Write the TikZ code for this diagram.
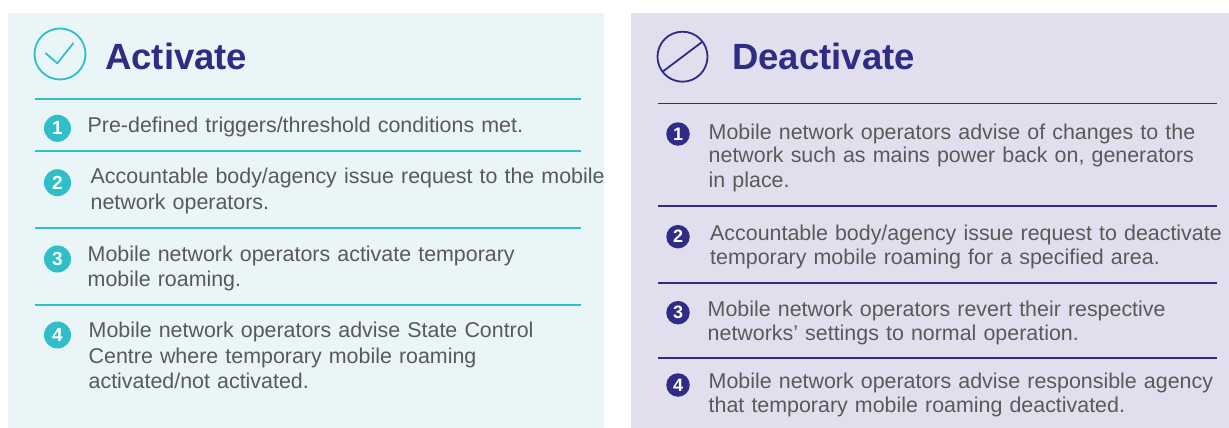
\documentclass[tikz,border=0pt]{standalone}
\usepackage{fontspec}
\setmainfont{Liberation Sans}
\definecolor{actbg}{HTML}{E9F5F6}
\definecolor{deabg}{HTML}{E1DFEE}
\definecolor{teal1}{HTML}{30BFC8}
\definecolor{navy1}{HTML}{2E2C84}
\definecolor{bodygray}{HTML}{595959}
\tikzset{
  paneltitle/.style={anchor=base west, inner sep=0pt, text=navy1, font=\fontsize{36.5}{40}\selectfont\bfseries},
  actline/.style={draw=teal1, line width=1.6pt},
  dealine/.style={draw=navy1, line width=1.6pt},
  actnum/.style={circle, fill=teal1, text=white, minimum size=27pt, inner sep=0pt, font=\fontsize{19}{19}\selectfont\bfseries},
  deanum/.style={circle, fill=navy1, text=white, minimum size=23.5pt, inner sep=0pt, font=\fontsize{18}{18}\selectfont\bfseries},
  acttext/.style={anchor=base west, inner sep=0pt, align=left, text width=600pt, text=bodygray, font=\fontsize{21.4}{25.5}\selectfont},
  deatext/.style={anchor=base west, inner sep=0pt, align=left, text width=600pt, text=bodygray, font=\fontsize{21.4}{24}\selectfont},
}
\begin{document}
\begin{tikzpicture}[x=1pt,y=-1pt]
\useasboundingbox (0,0) rectangle (1229,428);
% panels
\fill[actbg] (8,13) rectangle (604,428);
\fill[deabg] (631,13) rectangle (1229,428);
% icons
\node[circle, draw=teal1, line width=1.8pt, minimum size=51pt, inner sep=0pt, outer sep=0pt] (acticon) at (60,54) {};
\draw[teal1, line width=1.8pt, line join=round, line cap=round] (acticon.center) ++(-14.3,-0.7) -- ++(11.6,10) -- ++(16,-20);
\node[circle, draw=navy1, line width=1.8pt, minimum size=50pt, inner sep=0pt, outer sep=0pt] (deaicon) at (682.5,56.7) {};
\draw[navy1, line width=1.8pt] (deaicon.217) -- (deaicon.37);
% titles
\node[paneltitle] (acttitle) at (105,70) {Activate};
\node[paneltitle] (deatitle) at (732,70) {Deactivate};
% dividers
\draw[actline] (35,99) -- (581,99);
\draw[actline] (35,151) -- (581,151);
\draw[actline] (35,228) -- (581,228);
\draw[actline] (35,305) -- (581,305);
\draw[dealine] (658,103.3) -- (1217,103.3);
\draw[dealine] (658,206) -- (1217,206);
\draw[dealine] (658,282.7) -- (1217,282.7);
\draw[dealine] (658,358) -- (1217,358);
% activate items
\node[actnum] (a1) at (57.5,128.3) {1};
\node[acttext] (a1t) at (87.5,132) {Pre-defined triggers/threshold conditions met.};
\node[actnum] (a2) at (57.5,182.7) {2};
\node[acttext] (a2t) at (90.5,183.5) {Accountable body/agency issue request to the mobile\\network operators.};
\node[actnum] (a3) at (57.5,259) {3};
\node[acttext] (a3t) at (87.5,261) {Mobile network operators activate temporary\\mobile roaming.};
\node[actnum] (a4) at (57.5,335) {4};
\node[acttext] (a4t) at (88.5,337.5) {Mobile network operators advise State Control\\Centre where temporary mobile roaming\\activated/not activated.};
% deactivate items
\node[deanum] (d1) at (678,134) {1};
\node[deatext] (d1t) at (708.5,139) {Mobile network operators advise of changes to the\\network such as mains power back on, generators\\in place.};
\node[deanum] (d2) at (678,236.7) {2};
\node[deatext] (d2t) at (710,240) {Accountable body/agency issue request to deactivate\\temporary mobile roaming for a specified area.};
\node[deanum] (d3) at (678,312.7) {3};
\node[deatext] (d3t) at (707.5,316) {Mobile network operators revert their respective\\networks’ settings to normal operation.};
\node[deanum] (d4) at (678,385) {4};
\node[deatext] (d4t) at (708.5,388) {Mobile network operators advise responsible agency\\that temporary mobile roaming deactivated.};
\end{tikzpicture}
\end{document}
